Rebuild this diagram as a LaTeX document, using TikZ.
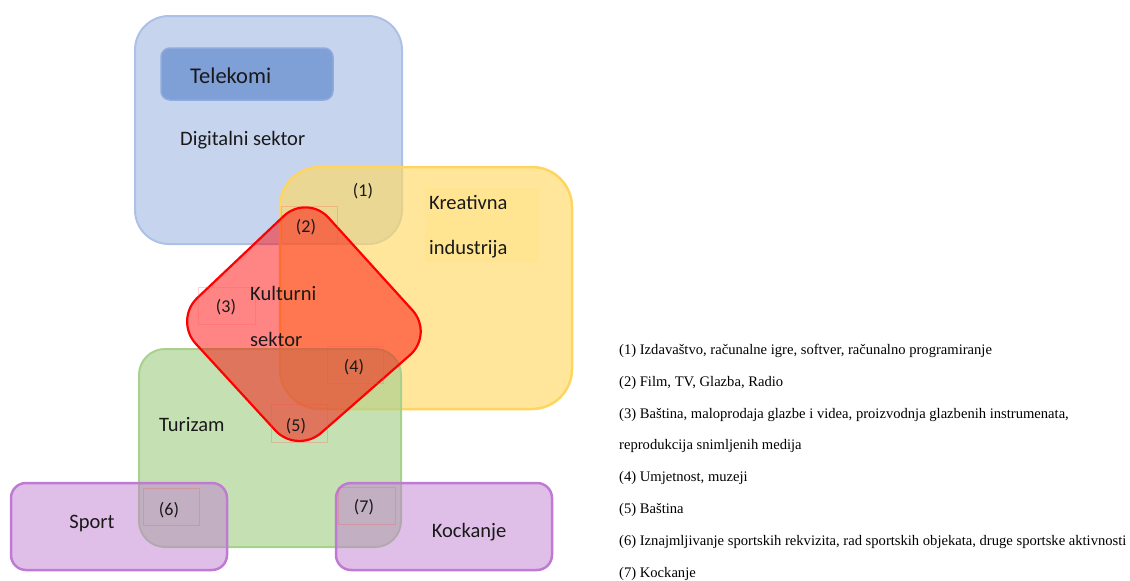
\documentclass[tikz,border=0pt]{standalone}
\usepackage{fontspec}
\setmainfont{Liberation Serif}
\newfontfamily\calfont{Carlito}
\begin{document}
\begin{tikzpicture}[x=1pt,y=-1pt,
  lbl/.style={font=\calfont\fontsize{20.5}{24}\selectfont, inner sep=0, text=black!90, anchor=base west},
  num/.style={font=\calfont\fontsize{18}{22}\selectfont, inner sep=0, text=black!90},
  numbox/.style={draw=red!70, draw opacity=0.25, line width=0.7},
  leg/.style={font=\fontsize{14.6}{17}\selectfont, inner sep=0, anchor=base west},
  bluebox/.style={fill=blue!20!white, fill=blueF, fill opacity=0.5, draw=blueD, line width=2pt, rounded corners=34pt},
  telbox/.style={fill=telF, draw=telD, line width=1.5pt, rounded corners=9pt},
  yellowbox/.style={fill=yelF, fill opacity=0.66, draw=yelD, line width=2.5pt, rounded corners=40pt},
  greenbox/.style={fill=grnF, fill opacity=0.67, draw=grnF, line width=2pt, rounded corners=26pt},
  redshape/.style={fill=red, fill opacity=0.48, draw=red, line width=2.2pt, rounded corners=32pt},
  purplebox/.style={fill=purF, fill opacity=0.5, draw=purD, line width=2.5pt, rounded corners=15pt}]
\definecolor{blueF}{HTML}{8FAADC}
\definecolor{blueD}{HTML}{ADC1E6}
\definecolor{telF}{HTML}{7F9FD7}
\definecolor{telD}{HTML}{8FAADC}
\definecolor{yelF}{HTML}{FFD966}
\definecolor{yelD}{HTML}{FFD561}
\definecolor{grnF}{HTML}{A9D18E}
\definecolor{purF}{HTML}{C080D2}
\definecolor{purD}{HTML}{BF7BD4}

\useasboundingbox (0,0) rectangle (1130,581);

% shapes
\draw[bluebox] (135,16) rectangle (402,244);
\draw[telbox] (161,48) rectangle (333,100);
\draw[yellowbox] (280,167) rectangle (572,409);
\fill[yelF, fill opacity=0.15] (425,188) rectangle (539,262);
\draw[greenbox] (139,349) rectangle (401,547);
\draw[redshape] (307,194) -- (434,334) -- (297,454) -- (174,320) -- cycle;
\draw[purplebox] (11,483) rectangle (227,570);
\draw[purplebox] (336,483) rectangle (552,570);

% number boxes
\draw[numbox] (281,206) rectangle (337,243);
\draw[numbox] (198,287) rectangle (255,324);
\draw[numbox] (327,346) rectangle (383,383);
\draw[numbox] (271,404) rectangle (327,442);
\draw[numbox] (143,488) rectangle (199,525);
\draw[numbox] (338,487) rectangle (395,524);

% labels
\node[lbl, font=\calfont\fontsize{22.5}{26}\selectfont] (tel) at (190,83) {Telekomi};
\node[lbl] (dig) at (180,145) {Digitalni sektor};
\node[lbl] (kre1) at (429,209) {Kreativna};
\node[lbl] (kre2) at (429,254.5) {industrija};
\node[lbl] (kul1) at (250,300) {Kulturni};
\node[lbl] (kul2) at (250,346.5) {sektor};
\node[lbl] (tur) at (159,431) {Turizam};
\node[lbl, anchor=base] (spo) at (92,528) {Sport};
\node[lbl, anchor=base] (koc) at (469,537) {Kockanje};

\node[num] (n1) at (363,191) {(1)};
\node[num] (n2) at (306,227) {(2)};
\node[num] (n3) at (226,307) {(3)};
\node[num] (n4) at (354,367) {(4)};
\node[num] (n5) at (296,426) {(5)};
\node[num] (n6) at (169,510) {(6)};
\node[num] (n7) at (364,507) {(7)};

% legend
\node[leg] (l1) at (619,354.3) {(1) Izdavaštvo, računalne igre, softver, računalno programiranje};
\node[leg] (l2) at (619,386.2) {(2) Film, TV, Glazba, Radio};
\node[leg] (l3) at (619,418.0) {(3) Baština, maloprodaja glazbe i videa, proizvodnja glazbenih instrumenata,};
\node[leg] (l4) at (619,449.9) {reprodukcija snimljenih medija};
\node[leg] (l5) at (619,481.7) {(4) Umjetnost, muzeji};
\node[leg] (l6) at (619,513.6) {(5) Baština};
\node[leg] (l7) at (619,545.5) {(6) Iznajmljivanje sportskih rekvizita, rad sportskih objekata, druge sportske aktivnosti};
\node[leg] (l8) at (619,577.3) {(7) Kockanje};
\end{tikzpicture}
\end{document}
